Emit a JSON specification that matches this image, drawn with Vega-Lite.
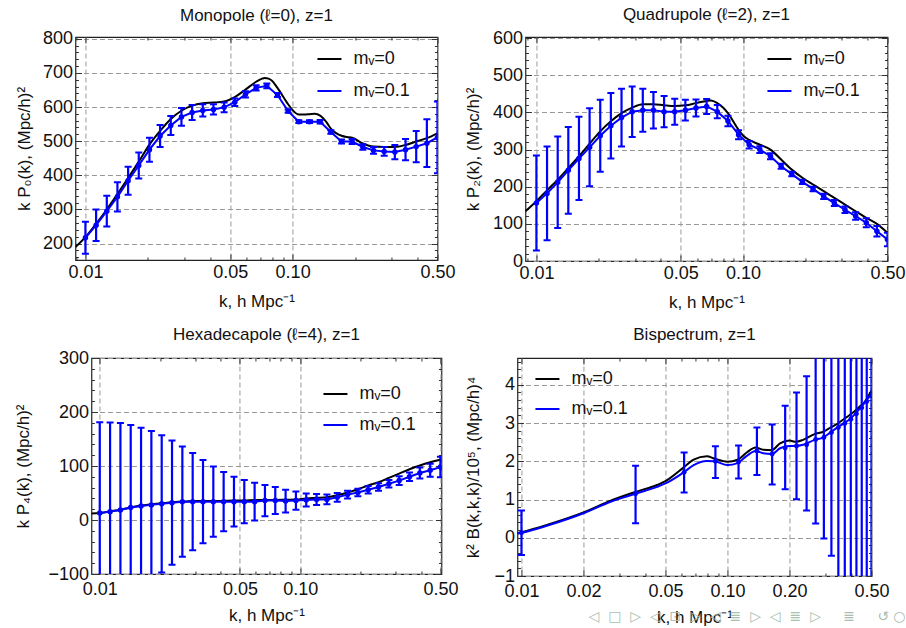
{
  "$schema": "https://vega.github.io/schema/vega-lite/v6.json",
  "background": "white",
  "padding": {"left": 13, "top": 5, "right": 0, "bottom": 0},
  "title": {"text": "◁\u00a0\u00a0□\u00a0\u00a0▷\u00a0\u00a0◁\u00a0\u00a0⊡\u00a0\u00a0▷\u00a0\u00a0◁\u00a0\u00a0≣\u00a0\u00a0▷\u00a0\u00a0◁\u00a0\u00a0≣\u00a0\u00a0▷\u00a0\u00a0\u00a0\u00a0\u00a0≣\u00a0\u00a0\u00a0\u00a0\u00a0↺\u00a0○", "orient": "bottom", "anchor": "end", "offset": -16, "fontSize": 14, "font": "DejaVu Sans", "fontWeight": "normal", "color": "#a9bfb0", "frame": "bounds"},
  "config": {
    "font": "Liberation Sans",
    "view": {"stroke": "#222", "strokeWidth": 1.2},
    "axis": {
      "labelFont": "Liberation Sans", "labelFontSize": 18, "labelColor": "#111",
      "titleFont": "Liberation Sans", "titleFontSize": 17, "titleFontWeight": "normal", "titleColor": "#111",
      "domain": false, "tickColor": "#333", "tickSize": -6, "tickWidth": 1,
      "gridColor": "#999", "gridDash": [5, 3], "gridWidth": 1,
      "labelOverlap": false, "labelFlush": false, "labelPadding": 9
    },
    "title": {"font": "Liberation Sans", "fontSize": 17, "fontWeight": "normal", "color": "#111", "offset": 5, "frame": "group"},
    "legend": {
      "labelFont": "Liberation Sans", "labelFontSize": 18, "labelColor": "#111",
      "symbolType": "stroke", "symbolSize": 576, "symbolStrokeWidth": 2,
      "labelOffset": 11, "padding": 0, "title": null
    }
  },
  "datasets": {
    "p0": [
      {"k": 0.01, "v": 217, "lo": 170, "hi": 264},
      {"k": 0.01126, "v": 254, "lo": 208, "hi": 300},
      {"k": 0.01268, "v": 295, "lo": 250, "hi": 340},
      {"k": 0.01427, "v": 337, "lo": 294, "hi": 380},
      {"k": 0.01607, "v": 384, "lo": 343, "hi": 425},
      {"k": 0.01809, "v": 429, "lo": 391, "hi": 467},
      {"k": 0.02037, "v": 475, "lo": 440, "hi": 510},
      {"k": 0.02293, "v": 515, "lo": 483, "hi": 547},
      {"k": 0.02582, "v": 546, "lo": 518, "hi": 574},
      {"k": 0.02907, "v": 571, "lo": 545, "hi": 597},
      {"k": 0.03273, "v": 584, "lo": 562, "hi": 606},
      {"k": 0.03685, "v": 590, "lo": 572, "hi": 608},
      {"k": 0.04149, "v": 593, "lo": 578, "hi": 608},
      {"k": 0.04671, "v": 599, "lo": 585, "hi": 613},
      {"k": 0.05259, "v": 614, "lo": 603, "hi": 625},
      {"k": 0.05921, "v": 637, "lo": 628, "hi": 646},
      {"k": 0.06667, "v": 656, "lo": 648, "hi": 664},
      {"k": 0.07506, "v": 662, "lo": 655, "hi": 669},
      {"k": 0.08451, "v": 635, "lo": 629, "hi": 641},
      {"k": 0.09515, "v": 588, "lo": 583, "hi": 593},
      {"k": 0.1071, "v": 557, "lo": 553, "hi": 561},
      {"k": 0.1206, "v": 557, "lo": 553, "hi": 561},
      {"k": 0.1358, "v": 557, "lo": 552, "hi": 562},
      {"k": 0.1529, "v": 527, "lo": 522, "hi": 532},
      {"k": 0.1722, "v": 499, "lo": 493, "hi": 505},
      {"k": 0.1938, "v": 499, "lo": 492, "hi": 506},
      {"k": 0.2182, "v": 483, "lo": 475, "hi": 491},
      {"k": 0.2457, "v": 473, "lo": 463, "hi": 483},
      {"k": 0.2767, "v": 470, "lo": 457, "hi": 483},
      {"k": 0.3115, "v": 468, "lo": 447, "hi": 489},
      {"k": 0.3507, "v": 475, "lo": 444, "hi": 506},
      {"k": 0.3949, "v": 484, "lo": 438, "hi": 530},
      {"k": 0.4446, "v": 494, "lo": 424, "hi": 564},
      {"k": 0.5, "v": 511, "lo": 406, "hi": 616}
    ],
    "b0": [
      {"k": 0.00895, "v": 190}, {"k": 0.01, "v": 219}, {"k": 0.01126, "v": 258}, {"k": 0.01268, "v": 300},
      {"k": 0.01427, "v": 345}, {"k": 0.01607, "v": 392}, {"k": 0.01809, "v": 440}, {"k": 0.02037, "v": 490},
      {"k": 0.02293, "v": 530}, {"k": 0.02582, "v": 565}, {"k": 0.02907, "v": 589}, {"k": 0.03273, "v": 604},
      {"k": 0.03685, "v": 611}, {"k": 0.04149, "v": 613}, {"k": 0.04671, "v": 616}, {"k": 0.05259, "v": 629},
      {"k": 0.05921, "v": 651}, {"k": 0.06667, "v": 674}, {"k": 0.0712, "v": 683}, {"k": 0.0735, "v": 685},
      {"k": 0.0765, "v": 683}, {"k": 0.0795, "v": 677}, {"k": 0.08451, "v": 656}, {"k": 0.09515, "v": 608},
      {"k": 0.1, "v": 591}, {"k": 0.1071, "v": 578}, {"k": 0.114, "v": 578}, {"k": 0.1206, "v": 579},
      {"k": 0.128, "v": 580}, {"k": 0.1358, "v": 575}, {"k": 0.145, "v": 557}, {"k": 0.1529, "v": 537},
      {"k": 0.1722, "v": 516}, {"k": 0.183, "v": 512}, {"k": 0.1938, "v": 510}, {"k": 0.2182, "v": 493},
      {"k": 0.2457, "v": 484}, {"k": 0.2767, "v": 483}, {"k": 0.3115, "v": 483}, {"k": 0.3507, "v": 489},
      {"k": 0.3949, "v": 499}, {"k": 0.4446, "v": 509}, {"k": 0.5, "v": 523}
    ],
    "p1": [
      {"k": 0.01, "v": 156, "lo": 28, "hi": 284},
      {"k": 0.01126, "v": 182, "lo": 56, "hi": 308},
      {"k": 0.01268, "v": 212, "lo": 89, "hi": 335},
      {"k": 0.01427, "v": 244, "lo": 127, "hi": 361},
      {"k": 0.01607, "v": 276, "lo": 164, "hi": 388},
      {"k": 0.01809, "v": 306, "lo": 201, "hi": 411},
      {"k": 0.02037, "v": 337, "lo": 240, "hi": 434},
      {"k": 0.02293, "v": 364, "lo": 276, "hi": 452},
      {"k": 0.02582, "v": 386, "lo": 308, "hi": 464},
      {"k": 0.02907, "v": 402, "lo": 334, "hi": 470},
      {"k": 0.03273, "v": 406, "lo": 348, "hi": 464},
      {"k": 0.03685, "v": 406, "lo": 357, "hi": 455},
      {"k": 0.04149, "v": 402, "lo": 360, "hi": 444},
      {"k": 0.04671, "v": 402, "lo": 367, "hi": 437},
      {"k": 0.05259, "v": 406, "lo": 378, "hi": 434},
      {"k": 0.05921, "v": 412, "lo": 389, "hi": 435},
      {"k": 0.06667, "v": 416, "lo": 396, "hi": 436},
      {"k": 0.07506, "v": 402, "lo": 384, "hi": 420},
      {"k": 0.08451, "v": 377, "lo": 363, "hi": 391},
      {"k": 0.09515, "v": 340, "lo": 328, "hi": 352},
      {"k": 0.1071, "v": 313, "lo": 303, "hi": 323},
      {"k": 0.1206, "v": 300, "lo": 291, "hi": 309},
      {"k": 0.1358, "v": 282, "lo": 274, "hi": 290},
      {"k": 0.1529, "v": 255, "lo": 248, "hi": 262},
      {"k": 0.1722, "v": 234, "lo": 228, "hi": 240},
      {"k": 0.1938, "v": 213, "lo": 207, "hi": 219},
      {"k": 0.2182, "v": 194, "lo": 188, "hi": 200},
      {"k": 0.2457, "v": 174, "lo": 167, "hi": 181},
      {"k": 0.2767, "v": 156, "lo": 148, "hi": 164},
      {"k": 0.3115, "v": 138, "lo": 129, "hi": 147},
      {"k": 0.3507, "v": 121, "lo": 111, "hi": 131},
      {"k": 0.3949, "v": 103, "lo": 91, "hi": 115},
      {"k": 0.4446, "v": 80, "lo": 66, "hi": 94},
      {"k": 0.5, "v": 58, "lo": 40, "hi": 76}
    ],
    "b1": [
      {"k": 0.00885, "v": 134}, {"k": 0.01, "v": 161}, {"k": 0.01126, "v": 190}, {"k": 0.01268, "v": 219},
      {"k": 0.01427, "v": 250}, {"k": 0.01607, "v": 282}, {"k": 0.01809, "v": 316}, {"k": 0.02037, "v": 349},
      {"k": 0.02293, "v": 376}, {"k": 0.02582, "v": 398}, {"k": 0.02907, "v": 413}, {"k": 0.03273, "v": 422},
      {"k": 0.03685, "v": 422}, {"k": 0.04149, "v": 419}, {"k": 0.04671, "v": 417}, {"k": 0.05259, "v": 419},
      {"k": 0.05921, "v": 425}, {"k": 0.06667, "v": 431}, {"k": 0.07, "v": 432}, {"k": 0.07506, "v": 425},
      {"k": 0.08, "v": 413}, {"k": 0.08451, "v": 398}, {"k": 0.09515, "v": 353}, {"k": 0.1, "v": 338},
      {"k": 0.1071, "v": 326}, {"k": 0.1206, "v": 313}, {"k": 0.1358, "v": 300}, {"k": 0.1529, "v": 273},
      {"k": 0.1722, "v": 246}, {"k": 0.1938, "v": 224}, {"k": 0.2182, "v": 206}, {"k": 0.2457, "v": 188},
      {"k": 0.2767, "v": 170}, {"k": 0.3115, "v": 152}, {"k": 0.3507, "v": 134}, {"k": 0.3949, "v": 116},
      {"k": 0.4446, "v": 100}, {"k": 0.5, "v": 76}
    ],
    "p2": [
      {"k": 0.01, "v": 13, "lo": -155, "hi": 181},
      {"k": 0.01126, "v": 15.5, "lo": -149.5, "hi": 180.5},
      {"k": 0.01268, "v": 18.5, "lo": -142.5, "hi": 179.5},
      {"k": 0.01427, "v": 23, "lo": -130, "hi": 176},
      {"k": 0.01607, "v": 26, "lo": -119, "hi": 171},
      {"k": 0.01809, "v": 28, "lo": -109, "hi": 165},
      {"k": 0.02037, "v": 30, "lo": -97, "hi": 157},
      {"k": 0.02293, "v": 32, "lo": -83, "hi": 147},
      {"k": 0.02582, "v": 34, "lo": -68, "hi": 136},
      {"k": 0.02907, "v": 34, "lo": -56, "hi": 124},
      {"k": 0.03273, "v": 34, "lo": -43, "hi": 111},
      {"k": 0.03685, "v": 34, "lo": -31, "hi": 99},
      {"k": 0.04149, "v": 34, "lo": -21, "hi": 89},
      {"k": 0.04671, "v": 34, "lo": -12, "hi": 80},
      {"k": 0.05259, "v": 34, "lo": -6, "hi": 74},
      {"k": 0.05921, "v": 34, "lo": -1, "hi": 69},
      {"k": 0.06667, "v": 36, "lo": 7, "hi": 65},
      {"k": 0.07506, "v": 36, "lo": 11, "hi": 61},
      {"k": 0.08451, "v": 35, "lo": 14, "hi": 56},
      {"k": 0.09515, "v": 36, "lo": 19, "hi": 53},
      {"k": 0.1071, "v": 37, "lo": 25, "hi": 49},
      {"k": 0.1206, "v": 38, "lo": 28, "hi": 48},
      {"k": 0.1358, "v": 38, "lo": 29, "hi": 47},
      {"k": 0.1529, "v": 42, "lo": 34, "hi": 50},
      {"k": 0.1722, "v": 47, "lo": 40, "hi": 54},
      {"k": 0.1938, "v": 51, "lo": 44, "hi": 58},
      {"k": 0.2182, "v": 56, "lo": 49, "hi": 63},
      {"k": 0.2457, "v": 61, "lo": 54, "hi": 68},
      {"k": 0.2767, "v": 67, "lo": 60, "hi": 74},
      {"k": 0.3115, "v": 73, "lo": 65, "hi": 81},
      {"k": 0.3507, "v": 80, "lo": 72, "hi": 88},
      {"k": 0.3949, "v": 87, "lo": 77, "hi": 97},
      {"k": 0.4446, "v": 92, "lo": 80, "hi": 104},
      {"k": 0.5, "v": 98, "lo": 79, "hi": 117}
    ],
    "b2": [
      {"k": 0.00909, "v": 12}, {"k": 0.01, "v": 13}, {"k": 0.01126, "v": 16}, {"k": 0.01268, "v": 19},
      {"k": 0.01427, "v": 23}, {"k": 0.01607, "v": 27}, {"k": 0.01809, "v": 29}, {"k": 0.02037, "v": 31},
      {"k": 0.02293, "v": 33}, {"k": 0.02582, "v": 34}, {"k": 0.02907, "v": 35}, {"k": 0.03273, "v": 35},
      {"k": 0.03685, "v": 35}, {"k": 0.04149, "v": 35.5}, {"k": 0.04671, "v": 36}, {"k": 0.05259, "v": 36},
      {"k": 0.05921, "v": 37}, {"k": 0.06667, "v": 37}, {"k": 0.07506, "v": 37}, {"k": 0.08451, "v": 37.5},
      {"k": 0.09515, "v": 38}, {"k": 0.1071, "v": 40}, {"k": 0.1206, "v": 41}, {"k": 0.1358, "v": 42},
      {"k": 0.1529, "v": 46}, {"k": 0.1722, "v": 51}, {"k": 0.1938, "v": 57}, {"k": 0.2182, "v": 64},
      {"k": 0.2457, "v": 70}, {"k": 0.2767, "v": 78}, {"k": 0.3115, "v": 86}, {"k": 0.3507, "v": 94},
      {"k": 0.3949, "v": 101}, {"k": 0.4446, "v": 107}, {"k": 0.5, "v": 112}, {"k": 0.506, "v": 112.6}
    ],
    "p3": [
      {"k": 0.01, "v": 0.13, "lo": -0.45, "hi": 0.71},
      {"k": 0.0358, "v": 1.15, "lo": 0.38, "hi": 1.88},
      {"k": 0.0616, "v": 1.71, "lo": 1.18, "hi": 2.23},
      {"k": 0.0874, "v": 2.0, "lo": 1.56, "hi": 2.39},
      {"k": 0.1132, "v": 1.98, "lo": 1.55, "hi": 2.41},
      {"k": 0.139, "v": 2.27, "lo": 1.64, "hi": 2.88},
      {"k": 0.1648, "v": 2.19, "lo": 1.39, "hi": 2.96},
      {"k": 0.1906, "v": 2.35, "lo": 1.27, "hi": 3.45},
      {"k": 0.2164, "v": 2.4, "lo": 1.01, "hi": 3.8},
      {"k": 0.2422, "v": 2.43, "lo": 0.71, "hi": 4.22},
      {"k": 0.268, "v": 2.57, "lo": 0.37, "hi": 4.77},
      {"k": 0.2938, "v": 2.62, "lo": -0.02, "hi": 5.26},
      {"k": 0.3196, "v": 2.75, "lo": -0.47, "hi": 5.97},
      {"k": 0.3454, "v": 2.88, "lo": -1.1, "hi": 6.9},
      {"k": 0.3712, "v": 2.99, "lo": -1.6, "hi": 7.6},
      {"k": 0.397, "v": 3.1, "lo": -2.3, "hi": 8.5},
      {"k": 0.4228, "v": 3.24, "lo": -3.1, "hi": 9.6},
      {"k": 0.4486, "v": 3.4, "lo": -3.9, "hi": 10.7},
      {"k": 0.4744, "v": 3.56, "lo": -4.8, "hi": 11.9},
      {"k": 0.5, "v": 3.71, "lo": -6.0, "hi": 13.4}
    ],
    "b3": [
      {"k": 0.00956, "v": 0.11}, {"k": 0.01, "v": 0.14}, {"k": 0.0134, "v": 0.34}, {"k": 0.02, "v": 0.66},
      {"k": 0.0271, "v": 0.97}, {"k": 0.0358, "v": 1.2}, {"k": 0.0455, "v": 1.38}, {"k": 0.05, "v": 1.48},
      {"k": 0.0613, "v": 1.84}, {"k": 0.0685, "v": 2.04}, {"k": 0.0794, "v": 2.13}, {"k": 0.0865, "v": 2.07},
      {"k": 0.1, "v": 1.99}, {"k": 0.112, "v": 2.04}, {"k": 0.124, "v": 2.23}, {"k": 0.137, "v": 2.36},
      {"k": 0.149, "v": 2.3}, {"k": 0.164, "v": 2.29}, {"k": 0.18, "v": 2.47}, {"k": 0.2, "v": 2.54},
      {"k": 0.215, "v": 2.51}, {"k": 0.233, "v": 2.56}, {"k": 0.265, "v": 2.71}, {"k": 0.291, "v": 2.77},
      {"k": 0.316, "v": 2.88}, {"k": 0.341, "v": 2.98}, {"k": 0.367, "v": 3.1}, {"k": 0.392, "v": 3.21},
      {"k": 0.417, "v": 3.32}, {"k": 0.443, "v": 3.45}, {"k": 0.468, "v": 3.58}, {"k": 0.492, "v": 3.78},
      {"k": 0.5, "v": 3.85}
    ],
    "c3": [
      {"k": 0.00956, "v": 0.11}, {"k": 0.01, "v": 0.13}, {"k": 0.0134, "v": 0.32}, {"k": 0.02, "v": 0.64},
      {"k": 0.0271, "v": 0.94}, {"k": 0.0358, "v": 1.15}, {"k": 0.0455, "v": 1.33}, {"k": 0.05, "v": 1.42},
      {"k": 0.0613, "v": 1.71}, {"k": 0.0685, "v": 1.9}, {"k": 0.0794, "v": 2.01}, {"k": 0.0865, "v": 2.0},
      {"k": 0.1, "v": 1.9}, {"k": 0.112, "v": 1.95}, {"k": 0.124, "v": 2.14}, {"k": 0.137, "v": 2.27},
      {"k": 0.149, "v": 2.21}, {"k": 0.164, "v": 2.19}, {"k": 0.18, "v": 2.34}, {"k": 0.2, "v": 2.4},
      {"k": 0.215, "v": 2.4}, {"k": 0.233, "v": 2.43}, {"k": 0.265, "v": 2.56}, {"k": 0.291, "v": 2.62},
      {"k": 0.316, "v": 2.75}, {"k": 0.341, "v": 2.88}, {"k": 0.367, "v": 2.99}, {"k": 0.392, "v": 3.1},
      {"k": 0.417, "v": 3.24}, {"k": 0.443, "v": 3.4}, {"k": 0.468, "v": 3.56}, {"k": 0.492, "v": 3.71},
      {"k": 0.5, "v": 3.76}
    ]
  },
  "spacing": 13,
  "center": true,
  "vconcat": [
    {
      "bounds": "flush",
      "spacing": 88,
      "resolve": {"scale": {"x": "independent", "y": "independent", "color": "independent"}, "legend": {"color": "independent"}},
      "hconcat": [
        {
          "width": 362, "height": 223,
          "title": "Monopole (ℓ=0), z=1",
          "resolve": {"axis": {"x": "independent", "y": "independent"}},
          "layer": [
            {"data": {"name": "b0"}, "mark": {"type": "line", "clip": true, "strokeWidth": 2, "interpolate": "monotone"},
             "encoding": {
               "x": {"field": "k", "type": "quantitative", "scale": {"type": "log", "domain": [0.00895, 0.5], "nice": false},
                     "axis": {"orient": "bottom", "values": [0.01, 0.05, 0.1, 0.5], "format": ".2f", "title": "k, h Mpc⁻¹", "titlePadding": 12}},
               "y": {"field": "v", "type": "quantitative", "scale": {"domain": [152, 805], "nice": false, "zero": false},
                     "axis": {"orient": "left", "values": [200, 300, 400, 500, 600, 700, 800], "title": "k P₀(k), (Mpc/h)²", "titleX": -42}},
               "color": {"datum": "mᵥ=0", "type": "nominal", "scale": {"domain": ["mᵥ=0", "mᵥ=0.1"], "range": ["#000000", "#0000ff"]},
                         "legend": {"orient": "none", "legendX": 241, "legendY": 9, "rowPadding": 10}}
             }},
            {"data": {"name": "p0"}, "mark": {"type": "line", "clip": true, "strokeWidth": 2},
             "encoding": {
               "x": {"field": "k", "type": "quantitative", "scale": {"type": "log", "domain": [0.00895, 0.5], "nice": false},
                     "axis": {"orient": "top", "values": [0.01, 0.05, 0.1, 0.5], "labels": false, "grid": false, "title": null}},
               "y": {"field": "v", "type": "quantitative", "scale": {"domain": [152, 805], "nice": false, "zero": false},
                     "axis": {"orient": "right", "values": [200, 300, 400, 500, 600, 700, 800], "labels": false, "grid": false, "title": null}},
               "color": {"datum": "mᵥ=0.1", "type": "nominal"}
             }},
            {"data": {"name": "p0"}, "mark": {"type": "rule", "clip": true, "color": "#0000ff", "strokeWidth": 2.2},
             "encoding": {
               "x": {"field": "k", "type": "quantitative", "scale": {"type": "log", "domain": [0.00895, 0.5], "nice": false},
                     "axis": {"orient": "bottom", "values": [0.009, 0.02, 0.03, 0.04, 0.06, 0.07, 0.08, 0.09, 0.2, 0.3, 0.4], "labels": false, "grid": false, "title": null, "tickSize": -3}},
               "y": {"field": "lo", "type": "quantitative", "scale": {"domain": [152, 805], "nice": false, "zero": false},
                     "axis": {"orient": "left", "values": [160, 180, 220, 240, 260, 280, 320, 340, 360, 380, 420, 440, 460, 480, 520, 540, 560, 580, 620, 640, 660, 680, 720, 740, 760, 780], "labels": false, "grid": false, "title": null, "tickSize": -3}},
               "y2": {"field": "hi"}
             }},
            {"data": {"name": "p0"}, "mark": {"type": "tick", "clip": true, "orient": "horizontal", "size": 7, "thickness": 2, "color": "#0000ff", "opacity": 1},
             "encoding": {
               "x": {"field": "k", "type": "quantitative", "scale": {"type": "log", "domain": [0.00895, 0.5], "nice": false},
                     "axis": {"orient": "top", "values": [0.009, 0.02, 0.03, 0.04, 0.06, 0.07, 0.08, 0.09, 0.2, 0.3, 0.4], "labels": false, "grid": false, "title": null, "tickSize": -3}},
               "y": {"field": "lo", "type": "quantitative", "scale": {"domain": [152, 805], "nice": false, "zero": false}, "axis": null}
             }},
            {"data": {"name": "p0"}, "mark": {"type": "tick", "clip": true, "orient": "horizontal", "size": 7, "thickness": 2, "color": "#0000ff", "opacity": 1},
             "encoding": {
               "x": {"field": "k", "type": "quantitative", "scale": {"type": "log", "domain": [0.00895, 0.5], "nice": false}, "axis": null},
               "y": {"field": "hi", "type": "quantitative", "scale": {"domain": [152, 805], "nice": false, "zero": false},
                     "axis": {"orient": "right", "values": [160, 180, 220, 240, 260, 280, 320, 340, 360, 380, 420, 440, 460, 480, 520, 540, 560, 580, 620, 640, 660, 680, 720, 740, 760, 780], "labels": false, "grid": false, "title": null, "tickSize": -3}}
             }},
            {"data": {"name": "p0"}, "mark": {"type": "circle", "clip": true, "size": 30, "color": "#0000ff", "opacity": 1},
             "encoding": {
               "x": {"field": "k", "type": "quantitative", "scale": {"type": "log", "domain": [0.00895, 0.5], "nice": false}, "axis": null},
               "y": {"field": "v", "type": "quantitative", "scale": {"domain": [152, 805], "nice": false, "zero": false}, "axis": null}
             }}
          ]
        },
        {
          "width": 362, "height": 224,
          "title": "Quadrupole (ℓ=2), z=1",
          "resolve": {"axis": {"x": "independent", "y": "independent"}},
          "layer": [
            {"data": {"name": "b1"}, "mark": {"type": "line", "clip": true, "strokeWidth": 2, "interpolate": "monotone"},
             "encoding": {
               "x": {"field": "k", "type": "quantitative", "scale": {"type": "log", "domain": [0.00885, 0.5], "nice": false},
                     "axis": {"orient": "bottom", "values": [0.01, 0.05, 0.1, 0.5], "format": ".2f", "title": "k, h Mpc⁻¹", "titlePadding": 12}},
               "y": {"field": "v", "type": "quantitative", "scale": {"domain": [0, 603], "nice": false, "zero": false},
                     "axis": {"orient": "left", "values": [0, 100, 200, 300, 400, 500, 600], "title": "k P₂(k), (Mpc/h)²", "titleX": -43}},
               "color": {"datum": "mᵥ=0", "type": "nominal", "scale": {"domain": ["mᵥ=0", "mᵥ=0.1"], "range": ["#000000", "#0000ff"]},
                         "legend": {"orient": "none", "legendX": 241, "legendY": 9, "rowPadding": 10}}
             }},
            {"data": {"name": "p1"}, "mark": {"type": "line", "clip": true, "strokeWidth": 2},
             "encoding": {
               "x": {"field": "k", "type": "quantitative", "scale": {"type": "log", "domain": [0.00885, 0.5], "nice": false},
                     "axis": {"orient": "top", "values": [0.01, 0.05, 0.1, 0.5], "labels": false, "grid": false, "title": null}},
               "y": {"field": "v", "type": "quantitative", "scale": {"domain": [0, 603], "nice": false, "zero": false},
                     "axis": {"orient": "right", "values": [0, 100, 200, 300, 400, 500, 600], "labels": false, "grid": false, "title": null}},
               "color": {"datum": "mᵥ=0.1", "type": "nominal"}
             }},
            {"data": {"name": "p1"}, "mark": {"type": "rule", "clip": true, "color": "#0000ff", "strokeWidth": 2.2},
             "encoding": {
               "x": {"field": "k", "type": "quantitative", "scale": {"type": "log", "domain": [0.00885, 0.5], "nice": false},
                     "axis": {"orient": "bottom", "values": [0.009, 0.02, 0.03, 0.04, 0.06, 0.07, 0.08, 0.09, 0.2, 0.3, 0.4], "labels": false, "grid": false, "title": null, "tickSize": -3}},
               "y": {"field": "lo", "type": "quantitative", "scale": {"domain": [0, 603], "nice": false, "zero": false},
                     "axis": {"orient": "left", "values": [20, 40, 60, 80, 120, 140, 160, 180, 220, 240, 260, 280, 320, 340, 360, 380, 420, 440, 460, 480, 520, 540, 560, 580], "labels": false, "grid": false, "title": null, "tickSize": -3}},
               "y2": {"field": "hi"}
             }},
            {"data": {"name": "p1"}, "mark": {"type": "tick", "clip": true, "orient": "horizontal", "size": 7, "thickness": 2, "color": "#0000ff", "opacity": 1},
             "encoding": {
               "x": {"field": "k", "type": "quantitative", "scale": {"type": "log", "domain": [0.00885, 0.5], "nice": false},
                     "axis": {"orient": "top", "values": [0.009, 0.02, 0.03, 0.04, 0.06, 0.07, 0.08, 0.09, 0.2, 0.3, 0.4], "labels": false, "grid": false, "title": null, "tickSize": -3}},
               "y": {"field": "lo", "type": "quantitative", "scale": {"domain": [0, 603], "nice": false, "zero": false}, "axis": null}
             }},
            {"data": {"name": "p1"}, "mark": {"type": "tick", "clip": true, "orient": "horizontal", "size": 7, "thickness": 2, "color": "#0000ff", "opacity": 1},
             "encoding": {
               "x": {"field": "k", "type": "quantitative", "scale": {"type": "log", "domain": [0.00885, 0.5], "nice": false}, "axis": null},
               "y": {"field": "hi", "type": "quantitative", "scale": {"domain": [0, 603], "nice": false, "zero": false},
                     "axis": {"orient": "right", "values": [20, 40, 60, 80, 120, 140, 160, 180, 220, 240, 260, 280, 320, 340, 360, 380, 420, 440, 460, 480, 520, 540, 560, 580], "labels": false, "grid": false, "title": null, "tickSize": -3}}
             }},
            {"data": {"name": "p1"}, "mark": {"type": "circle", "clip": true, "size": 30, "color": "#0000ff", "opacity": 1},
             "encoding": {
               "x": {"field": "k", "type": "quantitative", "scale": {"type": "log", "domain": [0.00885, 0.5], "nice": false}, "axis": null},
               "y": {"field": "v", "type": "quantitative", "scale": {"domain": [0, 603], "nice": false, "zero": false}, "axis": null}
             }}
          ]
        }
      ]
    },
    {
      "bounds": "flush",
      "spacing": 76,
      "resolve": {"scale": {"x": "independent", "y": "independent", "color": "independent"}, "legend": {"color": "independent"}},
      "hconcat": [
        {
          "width": 350, "height": 216,
          "title": "Hexadecapole (ℓ=4), z=1",
          "resolve": {"axis": {"x": "independent", "y": "independent"}},
          "layer": [
            {"data": {"name": "b2"}, "mark": {"type": "line", "clip": true, "strokeWidth": 2, "interpolate": "monotone"},
             "encoding": {
               "x": {"field": "k", "type": "quantitative", "scale": {"type": "log", "domain": [0.00909, 0.506], "nice": false},
                     "axis": {"orient": "bottom", "values": [0.01, 0.05, 0.1, 0.5], "format": ".2f", "title": "k, h Mpc⁻¹", "titlePadding": 9, "labelPadding": 12}},
               "y": {"field": "v", "type": "quantitative", "scale": {"domain": [-100, 300], "nice": false, "zero": false},
                     "axis": {"orient": "left", "values": [-100, 0, 100, 200, 300], "title": "k P₄(k), (Mpc/h)²", "titleX": -59}},
               "color": {"datum": "mᵥ=0", "type": "nominal", "scale": {"domain": ["mᵥ=0", "mᵥ=0.1"], "range": ["#000000", "#0000ff"]},
                         "legend": {"orient": "none", "legendX": 231, "legendY": 23, "rowPadding": 9}}
             }},
            {"data": {"name": "p2"}, "mark": {"type": "line", "clip": true, "strokeWidth": 2},
             "encoding": {
               "x": {"field": "k", "type": "quantitative", "scale": {"type": "log", "domain": [0.00909, 0.506], "nice": false},
                     "axis": {"orient": "top", "values": [0.01, 0.05, 0.1, 0.5], "labels": false, "grid": false, "title": null}},
               "y": {"field": "v", "type": "quantitative", "scale": {"domain": [-100, 300], "nice": false, "zero": false},
                     "axis": {"orient": "right", "values": [-100, 0, 100, 200, 300], "labels": false, "grid": false, "title": null}},
               "color": {"datum": "mᵥ=0.1", "type": "nominal"}
             }},
            {"data": {"name": "p2"}, "mark": {"type": "rule", "clip": true, "color": "#0000ff", "strokeWidth": 2.2},
             "encoding": {
               "x": {"field": "k", "type": "quantitative", "scale": {"type": "log", "domain": [0.00909, 0.506], "nice": false},
                     "axis": {"orient": "bottom", "values": [0.02, 0.03, 0.04, 0.06, 0.07, 0.08, 0.09, 0.2, 0.3, 0.4], "labels": false, "grid": false, "title": null, "tickSize": -3}},
               "y": {"field": "lo", "type": "quantitative", "scale": {"domain": [-100, 300], "nice": false, "zero": false},
                     "axis": {"orient": "left", "values": [-80, -60, -40, -20, 20, 40, 60, 80, 120, 140, 160, 180, 220, 240, 260, 280], "labels": false, "grid": false, "title": null, "tickSize": -3}},
               "y2": {"field": "hi"}
             }},
            {"data": {"name": "p2"}, "mark": {"type": "tick", "clip": true, "orient": "horizontal", "size": 7, "thickness": 2, "color": "#0000ff", "opacity": 1},
             "encoding": {
               "x": {"field": "k", "type": "quantitative", "scale": {"type": "log", "domain": [0.00909, 0.506], "nice": false},
                     "axis": {"orient": "top", "values": [0.02, 0.03, 0.04, 0.06, 0.07, 0.08, 0.09, 0.2, 0.3, 0.4], "labels": false, "grid": false, "title": null, "tickSize": -3}},
               "y": {"field": "lo", "type": "quantitative", "scale": {"domain": [-100, 300], "nice": false, "zero": false}, "axis": null}
             }},
            {"data": {"name": "p2"}, "mark": {"type": "tick", "clip": true, "orient": "horizontal", "size": 7, "thickness": 2, "color": "#0000ff", "opacity": 1},
             "encoding": {
               "x": {"field": "k", "type": "quantitative", "scale": {"type": "log", "domain": [0.00909, 0.506], "nice": false}, "axis": null},
               "y": {"field": "hi", "type": "quantitative", "scale": {"domain": [-100, 300], "nice": false, "zero": false},
                     "axis": {"orient": "right", "values": [-80, -60, -40, -20, 20, 40, 60, 80, 120, 140, 160, 180, 220, 240, 260, 280], "labels": false, "grid": false, "title": null, "tickSize": -3}}
             }},
            {"data": {"name": "p2"}, "mark": {"type": "circle", "clip": true, "size": 30, "color": "#0000ff", "opacity": 1},
             "encoding": {
               "x": {"field": "k", "type": "quantitative", "scale": {"type": "log", "domain": [0.00909, 0.506], "nice": false}, "axis": null},
               "y": {"field": "v", "type": "quantitative", "scale": {"domain": [-100, 300], "nice": false, "zero": false}, "axis": null}
             }}
          ]
        },
        {
          "width": 354, "height": 218,
          "title": {"text": "Bispectrum, z=1", "offset": 14},
          "resolve": {"axis": {"x": "independent", "y": "independent"}},
          "layer": [
            {"data": {"name": "b3"}, "mark": {"type": "line", "clip": true, "strokeWidth": 2, "interpolate": "monotone"},
             "encoding": {
               "x": {"field": "k", "type": "quantitative", "scale": {"type": "log", "domain": [0.00956, 0.5], "nice": false},
                     "axis": {"orient": "bottom", "values": [0.01, 0.02, 0.05, 0.1, 0.2, 0.5], "format": ".2f", "title": "k, h Mpc⁻¹", "titlePadding": 9, "labelPadding": 12}},
               "y": {"field": "v", "type": "quantitative", "scale": {"domain": [-1, 4.7], "nice": false, "zero": false},
                     "axis": {"orient": "left", "values": [-1, 0, 1, 2, 3, 4], "format": "d", "title": "k² B(k,k,k)/10⁵, (Mpc/h)⁴", "titleX": -35}},
               "color": {"datum": "mᵥ=0", "type": "nominal", "scale": {"domain": ["mᵥ=0", "mᵥ=0.1"], "range": ["#000000", "#0000ff"]},
                         "legend": {"orient": "none", "legendX": 17, "legendY": 8, "rowPadding": 8}}
             }},
            {"data": {"name": "c3"}, "mark": {"type": "line", "clip": true, "strokeWidth": 2, "interpolate": "monotone"},
             "encoding": {
               "x": {"field": "k", "type": "quantitative", "scale": {"type": "log", "domain": [0.00956, 0.5], "nice": false},
                     "axis": {"orient": "top", "values": [0.01, 0.02, 0.05, 0.1, 0.2, 0.5], "labels": false, "grid": false, "title": null}},
               "y": {"field": "v", "type": "quantitative", "scale": {"domain": [-1, 4.7], "nice": false, "zero": false},
                     "axis": {"orient": "right", "values": [-1, 0, 1, 2, 3, 4], "labels": false, "grid": false, "title": null}},
               "color": {"datum": "mᵥ=0.1", "type": "nominal"}
             }},
            {"data": {"name": "p3"}, "mark": {"type": "rule", "clip": true, "color": "#0000ff", "strokeWidth": 2.2},
             "encoding": {
               "x": {"field": "k", "type": "quantitative", "scale": {"type": "log", "domain": [0.00956, 0.5], "nice": false},
                     "axis": {"orient": "bottom", "values": [0.03, 0.04, 0.06, 0.07, 0.08, 0.09, 0.3, 0.4], "labels": false, "grid": false, "title": null, "tickSize": -3}},
               "y": {"field": "lo", "type": "quantitative", "scale": {"domain": [-1, 4.7], "nice": false, "zero": false},
                     "axis": {"orient": "left", "values": [-0.8, -0.6, -0.4, -0.2, 0.2, 0.4, 0.6, 0.8, 1.2, 1.4, 1.6, 1.8, 2.2, 2.4, 2.6, 2.8, 3.2, 3.4, 3.6, 3.8, 4.2, 4.4, 4.6], "labels": false, "grid": false, "title": null, "tickSize": -3}},
               "y2": {"field": "hi"}
             }},
            {"data": {"name": "p3"}, "mark": {"type": "tick", "clip": true, "orient": "horizontal", "size": 7, "thickness": 2, "color": "#0000ff", "opacity": 1},
             "encoding": {
               "x": {"field": "k", "type": "quantitative", "scale": {"type": "log", "domain": [0.00956, 0.5], "nice": false},
                     "axis": {"orient": "top", "values": [0.03, 0.04, 0.06, 0.07, 0.08, 0.09, 0.3, 0.4], "labels": false, "grid": false, "title": null, "tickSize": -3}},
               "y": {"field": "lo", "type": "quantitative", "scale": {"domain": [-1, 4.7], "nice": false, "zero": false}, "axis": null}
             }},
            {"data": {"name": "p3"}, "mark": {"type": "tick", "clip": true, "orient": "horizontal", "size": 7, "thickness": 2, "color": "#0000ff", "opacity": 1},
             "encoding": {
               "x": {"field": "k", "type": "quantitative", "scale": {"type": "log", "domain": [0.00956, 0.5], "nice": false}, "axis": null},
               "y": {"field": "hi", "type": "quantitative", "scale": {"domain": [-1, 4.7], "nice": false, "zero": false},
                     "axis": {"orient": "right", "values": [-0.8, -0.6, -0.4, -0.2, 0.2, 0.4, 0.6, 0.8, 1.2, 1.4, 1.6, 1.8, 2.2, 2.4, 2.6, 2.8, 3.2, 3.4, 3.6, 3.8, 4.2, 4.4, 4.6], "labels": false, "grid": false, "title": null, "tickSize": -3}}
             }},
            {"data": {"name": "p3"}, "mark": {"type": "circle", "clip": true, "size": 24, "color": "#0000ff", "opacity": 1},
             "encoding": {
               "x": {"field": "k", "type": "quantitative", "scale": {"type": "log", "domain": [0.00956, 0.5], "nice": false}, "axis": null},
               "y": {"field": "v", "type": "quantitative", "scale": {"domain": [-1, 4.7], "nice": false, "zero": false}, "axis": null}
             }}
          ]
        }
      ]
    }
  ]
}
